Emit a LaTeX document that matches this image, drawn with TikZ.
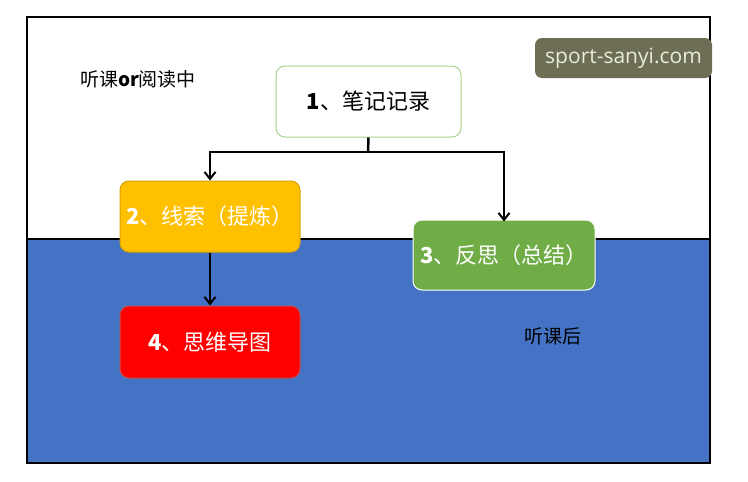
\documentclass[tikz,border=0pt]{standalone}
\usepackage{fontspec}
\setmainfont{Liberation Sans}
\newfontfamily\cjk{Noto Sans CJK SC}
\newfontfamily\wmfont{Open Sans}
\usetikzlibrary{arrows.meta}
\definecolor{bgblue}{HTML}{4472C4}
\definecolor{boxgreen}{HTML}{70AD47}
\definecolor{lightgreen}{HTML}{A9D18E}
\definecolor{boxorange}{HTML}{FFC000}
\definecolor{orangeedge}{HTML}{D9A000}
\definecolor{rededge}{HTML}{C0504D}
\definecolor{wmfill}{HTML}{6E6E55}
\definecolor{wmtext}{HTML}{E6EDD8}
\tikzset{
  stepbox/.style={rounded corners=9pt, minimum width=180pt, minimum height=71pt, line width=1pt, font=\cjk\fontsize{22}{26}\selectfont, inner sep=0pt},
  conn/.style={line width=2.5pt, -{Straight Barb[length=7pt,width=11pt,line width=2pt]}},
  lbl/.style={font=\cjk\fontsize{19}{22}\selectfont, text=black}
}
\begin{document}
\begin{tikzpicture}[x=1pt,y=-1pt]
\useasboundingbox (0,0) rectangle (748,482);
\fill[white] (0,0) rectangle (748,482);
% background regions
\fill[bgblue] (27,239) rectangle (710,463);
\draw[line width=2.5pt] (27,239) -- (710,239);
\draw[line width=2.5pt] (27,17) rectangle (710,463);
% labels
\node[lbl] (during) at (138,79) {听课\textbf{or}阅读中};
\node[lbl] (after) at (553,336) {听课后};
% boxes
\node[stepbox, draw=lightgreen, fill=white, text=black, minimum width=185pt] (n1) at (368.5,101.5) {\textbf{1}、笔记记录};
\node[stepbox, draw=orangeedge, fill=boxorange, text=white] (n2) at (210,216.5) {\textbf{2}、线索（提炼）};
\node[stepbox, draw=white, fill=boxgreen, text=white, minimum width=182pt, minimum height=70pt] (n3) at (504,255) {\textbf{3}、反思（总结）};
\node[stepbox, draw=rededge, fill=red, text=white, minimum height=72pt] (n4) at (210,342) {\textbf{4}、思维导图};
% connectors
\coordinate (split) at (368,152);
\draw[line width=2.5pt] (n1.south) -- (split);
\draw[conn] (split) -| (n2.north);
\draw[conn] (split) -| ([yshift=-2pt]n3.north);
\draw[conn] (n2.south) -- (n4.north);
% watermark
\node[fill=wmfill, rounded corners=7pt, minimum width=177pt, minimum height=40pt, inner sep=0pt, text=wmtext, font=\wmfont\fontsize{21}{24}\selectfont] (wm) at (623.5,58) {sport-sanyi.com};
\end{tikzpicture}
\end{document}
